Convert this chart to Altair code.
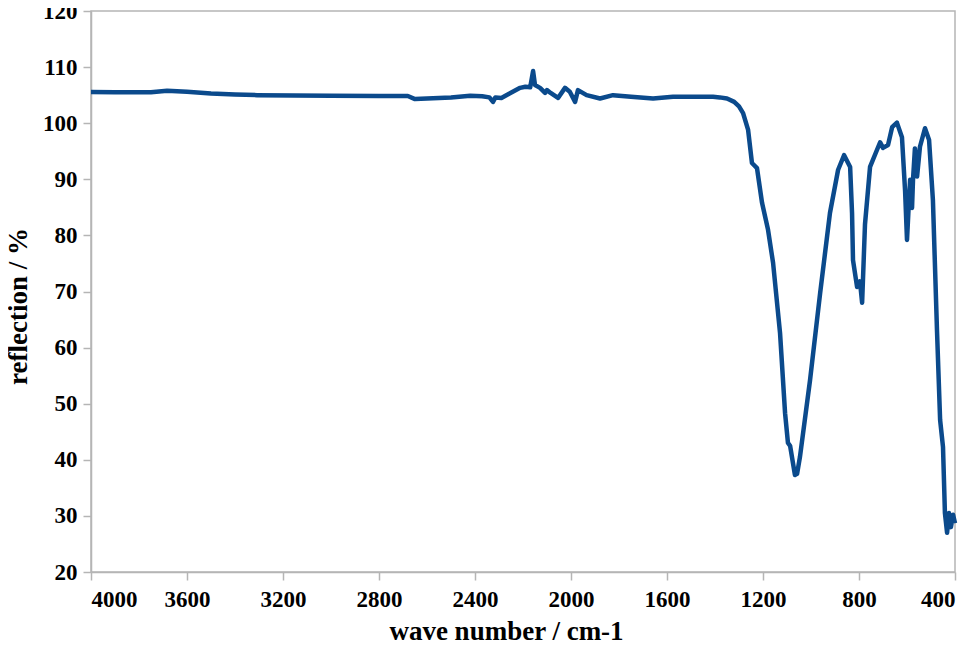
import altair as alt
import pandas as pd

wavenumber = [4000, 3900, 3800, 3750, 3683, 3600, 3500, 3400, 3308, 3000, 2800, 2680,
              2650, 2600, 2500, 2420, 2370, 2340, 2325, 2315, 2290, 2260, 2212, 2190,
              2170, 2158, 2150, 2129, 2108, 2100, 2085, 2054, 2025, 2005, 1983, 1971,
              1935, 1879, 1825, 1750, 1658, 1575, 1408, 1380, 1350, 1320, 1300, 1283, 1262, 1246,
              1225, 1204, 1179, 1158, 1129, 1108, 1096, 1087, 1067, 1058, 1046, 1004,
              962, 921, 887, 862, 837, 829, 825, 808, 796, 787, 775, 754, 712, 700,
              679, 662, 642, 621, 608, 600, 592, 587, 579, 575, 567, 558, 546, 525,
              508, 492, 475, 462, 450, 442, 433, 425, 417, 408, 400]
reflection = [105.55, 105.5, 105.5, 105.5, 105.8, 105.6, 105.3, 105.1, 105.0, 104.9, 104.85, 104.85,
              104.3, 104.4, 104.6, 104.9, 104.8, 104.6, 103.8, 104.6, 104.5, 105.2, 106.3, 106.5,
              106.4, 109.3, 106.8, 106.3, 105.4, 105.9, 105.4, 104.5, 106.3, 105.6, 103.8, 105.9,
              105.0, 104.4, 105.0, 104.7, 104.4, 104.7, 104.7, 104.6, 104.4, 103.8, 103.0, 101.8, 98.8, 92.9,
              92.0, 85.8, 81.0, 75.1, 62.6, 48.3, 43.0, 42.5, 37.3, 37.5, 40.5, 54.2,
              69.7, 84.0, 91.7, 94.3, 92.2, 84.0, 75.6, 70.8, 71.8, 68.0, 82.0, 92.2, 96.6, 95.6,
              96.1, 99.3, 100.1, 97.5, 88.0, 79.2, 86.0, 89.9, 84.9, 89.9, 95.5, 90.5, 95.8, 99.1,
              97.0, 86.3, 63.0, 47.1, 42.3, 30.5, 27.0, 30.5, 28.0, 30.2, 28.7]

df = pd.DataFrame({"wn": wavenumber, "r": reflection})

x_ticks = [4000, 3600, 3200, 2800, 2400, 2000, 1600, 1200, 800, 400]
y_ticks = [20, 30, 40, 50, 60, 70, 80, 90, 100, 110, 120]

font = "Liberation Serif, Times New Roman, serif"
gray = "#b5b5b5"

chart = alt.Chart(df).mark_line(color="#0b4a8c", strokeWidth=4.5, strokeJoin="round").encode(
    x=alt.X("wn:Q", scale=alt.Scale(domain=[400, 4000], reverse=True, nice=False, zero=False),
            axis=alt.Axis(values=x_ticks, format="d", title="wave number / cm-1", grid=False,
                          domainColor=gray, tickColor=gray, tickSize=8, domainWidth=1.5, tickWidth=1.5,
                          labelFont=font, labelFontSize=23, labelFontWeight="bold", labelColor="black",
                          labelPadding=8, titleFont=font, titleFontSize=27, titleFontWeight="bold",
                          titleColor="black", titleX=415, titleY=46)),
    y=alt.Y("r:Q", scale=alt.Scale(domain=[20, 120], nice=False, zero=False),
            axis=alt.Axis(values=y_ticks, format="d", title="reflection / %", grid=False,
                          domainColor=gray, tickColor=gray, tickSize=8, domainWidth=1.5, tickWidth=1.5,
                          labelFont=font, labelFontSize=23, labelFontWeight="bold", labelColor="black",
                          labelPadding=6, titleFont=font, titleFontSize=27, titleFontWeight="bold",
                          titleColor="black", titleX=-59, titleY=295)),
).properties(
    width=864, height=561,
    autosize=alt.AutoSizeParams(type="none"),
    padding={"left": 83, "top": 3, "right": 10, "bottom": 69},
).configure_view(stroke=gray, strokeWidth=1.5)

chart.save("out.html", embed_options={"renderer": "svg", "actions": False})
